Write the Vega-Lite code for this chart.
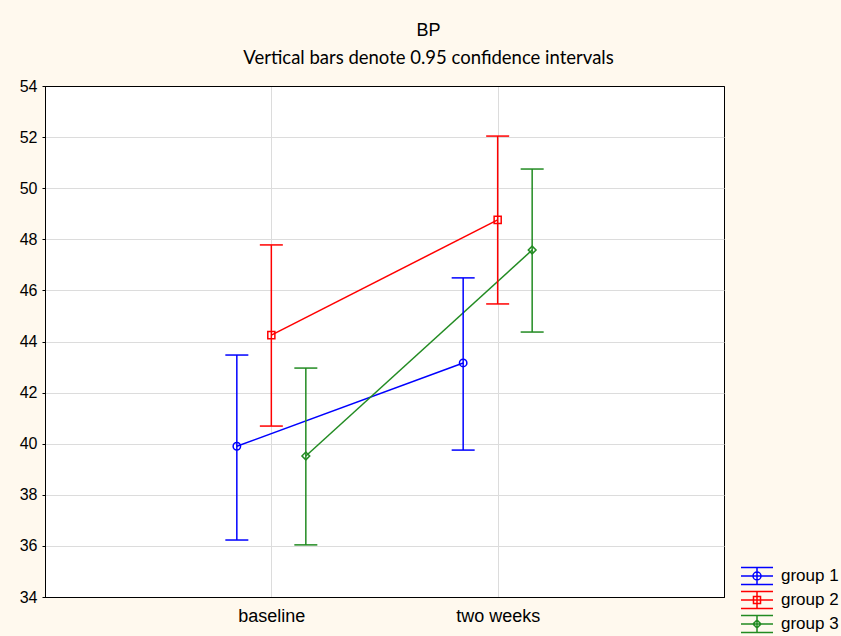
{
  "$schema": "https://vega.github.io/schema/vega-lite/v6.json",
  "width": 679,
  "height": 511,
  "autosize": {"type": "none"},
  "padding": {"left": 45, "top": 86, "right": 117, "bottom": 39},
  "background": "#FFF9EE",
  "title": {
    "text": "BP",
    "subtitle": "Vertical bars denote 0.95 confidence intervals",
    "anchor": "middle",
    "frame": "group",
    "dx": 44,
    "font": "Liberation Sans",
    "fontSize": 18,
    "fontWeight": "normal",
    "color": "#000000",
    "subtitleFont": "Lato",
    "subtitleFontSize": 18.5,
    "subtitleColor": "#000000",
    "offset": 11,
    "subtitlePadding": 9
  },
  "config": {
    "view": {"stroke": "#000000", "strokeWidth": 1, "fill": "#FFFFFF"},
    "axis": {
      "labelFont": "Liberation Sans",
      "labelColor": "#000000",
      "domain": true,
      "domainColor": "#000000",
      "domainWidth": 1,
      "grid": true,
      "gridColor": "#DCDCDC",
      "gridWidth": 1,
      "tickColor": "#000000",
      "title": null
    },
    "legend": {"symbolBaseFillColor": "transparent", "symbolFillColor": "transparent"}
  },
  "data": {
    "values": [
      {"group": "group 1", "time": "baseline", "mean": 39.9, "lo": 36.23, "hi": 43.47},
      {"group": "group 1", "time": "two weeks", "mean": 43.16, "lo": 39.75, "hi": 46.49},
      {"group": "group 2", "time": "baseline", "mean": 44.25, "lo": 40.69, "hi": 47.78},
      {"group": "group 2", "time": "two weeks", "mean": 48.76, "lo": 45.47, "hi": 52.04},
      {"group": "group 3", "time": "baseline", "mean": 39.52, "lo": 36.04, "hi": 42.96},
      {"group": "group 3", "time": "two weeks", "mean": 47.58, "lo": 44.37, "hi": 50.75}
    ]
  },
  "encoding": {
    "x": {
      "field": "time",
      "type": "nominal",
      "sort": ["baseline", "two weeks"],
      "scale": {"type": "point", "padding": 1},
      "axis": {"labelAngle": 0, "labelFontSize": 18, "ticks": false, "labelPadding": 10}
    },
    "xOffset": {
      "field": "group",
      "type": "nominal",
      "scale": {"type": "point", "padding": 0, "range": [-34.5, 34.5]}
    },
    "stroke": {"field": "group", "type": "nominal"}
  },
  "layer": [
    {
      "mark": {"type": "line", "strokeWidth": 1.5},
      "encoding": {
        "y": {
          "field": "mean",
          "type": "quantitative",
          "scale": {"domain": [34, 54], "nice": false, "zero": false},
          "axis": {
            "values": [34, 36, 38, 40, 42, 44, 46, 48, 50, 52, 54],
            "labelFontSize": 16,
            "tickSize": 3,
            "labelPadding": 5,
            "gridColor": {"condition": {"test": "datum.value === 34 || datum.value === 54", "value": "#000000"}, "value": "#DCDCDC"}
          }
        },
        "stroke": {
          "field": "group",
          "type": "nominal",
          "scale": {"domain": ["group 1", "group 2", "group 3"], "range": ["#0000FF", "#FF0000", "#228B22"]},
          "legend": {
            "orient": "none",
            "legendX": 703,
            "legendY": 481,
            "title": null,
            "padding": 0,
            "symbolSize": 256,
            "symbolStrokeWidth": 1.5,
            "symbolOpacity": 1,
            "symbolFillColor": "transparent",
            "labelFont": "Liberation Sans",
            "labelFontSize": 17,
            "labelColor": "#000000",
            "labelOffset": 15,
            "rowPadding": 0
          }
        },
        "detail": {"field": "group"}
      }
    },
    {
      "mark": {"type": "rule", "strokeWidth": 1.5},
      "encoding": {
        "y": {"field": "lo", "type": "quantitative"},
        "y2": {"field": "hi"}
      }
    },
    {
      "mark": {"type": "point", "shape": "M-1,0H1", "filled": false, "size": 529, "strokeWidth": 1.5, "opacity": 1},
      "encoding": {"y": {"field": "lo", "type": "quantitative"}}
    },
    {
      "mark": {"type": "point", "shape": "M-1,0H1", "filled": false, "size": 529, "strokeWidth": 1.5, "opacity": 1},
      "encoding": {"y": {"field": "hi", "type": "quantitative"}}
    },
    {
      "transform": [{"filter": "datum.group === 'group 1'"}],
      "mark": {"type": "point", "shape": "circle", "filled": false, "size": 55, "strokeWidth": 1.5, "opacity": 1},
      "encoding": {"y": {"field": "mean", "type": "quantitative"}}
    },
    {
      "transform": [{"filter": "datum.group === 'group 2'"}],
      "mark": {"type": "point", "shape": "square", "filled": false, "size": 50, "strokeWidth": 1.5, "opacity": 1},
      "encoding": {"y": {"field": "mean", "type": "quantitative"}}
    },
    {
      "transform": [{"filter": "datum.group === 'group 3'"}],
      "mark": {"type": "point", "shape": "diamond", "filled": false, "size": 60, "strokeWidth": 1.5, "opacity": 1},
      "encoding": {"y": {"field": "mean", "type": "quantitative"}}
    },
    {
      "mark": {"type": "point", "filled": false, "opacity": 0, "size": 256, "strokeWidth": 1.5},
      "encoding": {
        "y": {"field": "mean", "type": "quantitative"},
        "shape": {
          "field": "group",
          "type": "nominal",
          "scale": {
            "domain": ["group 1", "group 2", "group 3"],
            "range": [
              "M-2,-1.06H2M-2,1.06H2M0,-1.06V1.06M-2,0H2M-0.5,0A0.5,0.5,0,1,1,0.5,0A0.5,0.5,0,1,1,-0.5,0Z",
              "M-2,-1.06H2M-2,1.06H2M0,-1.06V1.06M-2,0H2M-0.44,-0.44H0.44V0.44H-0.44Z",
              "M-2,-1.06H2M-2,1.06H2M0,-1.06V1.06M-2,0H2M0,-0.5L0.5,0L0,0.5L-0.5,0Z"
            ]
          },
          "legend": {
            "orient": "none",
            "legendX": 703,
            "legendY": 481,
            "title": null
          }
        }
      }
    }
  ]
}
